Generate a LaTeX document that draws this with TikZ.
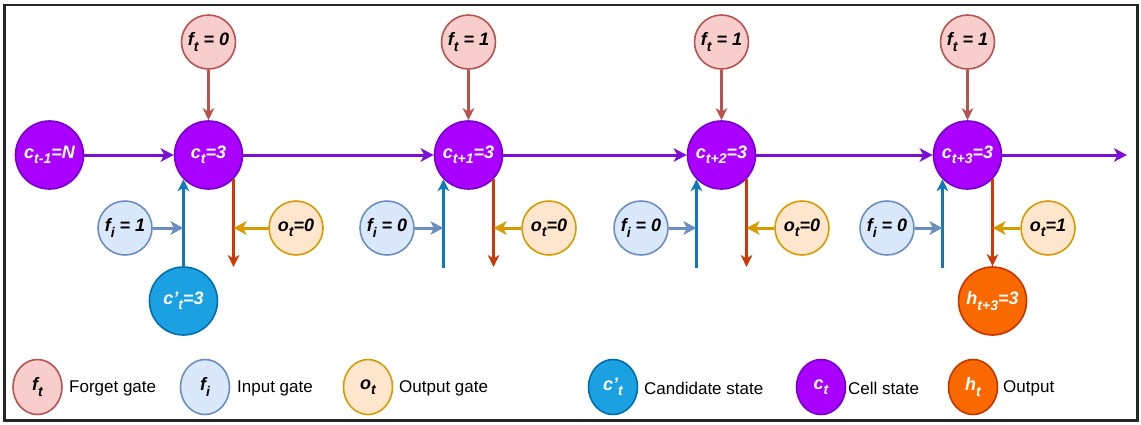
\documentclass[tikz,border=0pt]{standalone}
\usepackage{fontspec}
\setmainfont{Liberation Sans}
\usetikzlibrary{arrows.meta,shapes.geometric,calc}
\definecolor{ftFill}{HTML}{F8CECC}\definecolor{ftDraw}{HTML}{B85450}
\definecolor{fiFill}{HTML}{DAE8FC}\definecolor{fiDraw}{HTML}{6C8EBF}
\definecolor{otFill}{HTML}{FFE6CC}\definecolor{otDraw}{HTML}{D79B00}
\definecolor{cpFill}{HTML}{1BA1E2}\definecolor{cpDraw}{HTML}{006EAF}
\definecolor{ctFill}{HTML}{AA00FF}\definecolor{ctDraw}{HTML}{7700CC}
\definecolor{htFill}{HTML}{FA6800}\definecolor{htDraw}{HTML}{C73500}
\definecolor{blueLine}{HTML}{1079BC}
\definecolor{redLine}{HTML}{CC3A08}
\definecolor{purpLine}{HTML}{7A10D8}
\newcommand\lsb[1]{\raisebox{-0.3em}{\fontsize{14}{14}\selectfont #1}}
\tikzset{
  x=1pt, y=1pt,
  gate/.style={circle, inner sep=0pt, minimum size=54pt, line width=1.6pt,
    font=\fontsize{18}{20}\selectfont\bfseries\itshape},
  big/.style={gate, minimum size=68pt, text=white},
  ftn/.style={gate, fill=ftFill, draw=ftDraw},
  fin/.style={gate, fill=fiFill, draw=fiDraw},
  otn/.style={gate, fill=otFill, draw=otDraw},
  cpn/.style={big, fill=cpFill, draw=cpDraw},
  ctn/.style={big, fill=ctFill, draw=ctDraw},
  htn/.style={big, fill=htFill, draw=htDraw},
  arr/.style={line width=2.4pt, -{Stealth[length=12pt,width=11.5pt,inset=3.5pt]}},
  arrh/.style={line width=3pt, -{Stealth[length=13pt,width=13.5pt,inset=3.5pt]}},
  leg/.style={ellipse, inner sep=0pt, minimum width=49pt, minimum height=55pt, line width=1.6pt,
    font=\fontsize{18}{20}\selectfont\bfseries\itshape},
  legtxt/.style={anchor=west, inner sep=0pt, font=\fontsize{17}{20}\selectfont},
}
\begin{document}
\begin{tikzpicture}
\useasboundingbox (0,-424) rectangle (1141,0);
\draw[line width=2.2pt, black!85] (4.5,-5) rectangle (1137.5,-420.5);

% cell states
\node[ctn] (cm) at (49.5,-155) {c\lsb{t-1}=N};
\node[ctn] (c1) at (208.5,-155) {c\lsb{t}=3};
\node[ctn] (c2) at (468.5,-155) {c\lsb{t+1}=3};
\node[ctn] (c3) at (721.5,-155) {c\lsb{t+2}=3};
\node[ctn] (c4) at (967.5,-155) {c\lsb{t+3}=3};
\coordinate (out) at (1127,-155);

% forget gates
\node[ftn] (ft1) at (208.5,-42) {f\lsb{t} = 0};
\node[ftn] (ft2) at (468.5,-42) {f\lsb{t} = 1};
\node[ftn] (ft3) at (721.5,-42) {f\lsb{t} = 1};
\node[ftn] (ft4) at (967.5,-42) {f\lsb{t} = 1};

% candidate, output
\node[cpn] (cp1) at (c1.224 |- 0,-301) {c'\lsb{t}=3};
\node[htn] (h4) at (c4.316 |- 0,-301) {h\lsb{t+3}=3};

% blue line starts / red line ends
\coordinate (b2) at (c2.224 |- 0,-268);
\coordinate (b3) at (c3.224 |- 0,-268);
\coordinate (b4) at (c4.224 |- 0,-268);
\coordinate (r1) at (c1.316 |- 0,-267);
\coordinate (r2) at (c2.316 |- 0,-267);
\coordinate (r3) at (c3.316 |- 0,-267);

% input gates
\node[fin] (fi1) at (125,-228) {f\lsb{i} = 1};
\node[fin] (fi2) at (387,-228) {f\lsb{i} = 0};
\node[fin] (fi3) at (641,-228) {f\lsb{i} = 0};
\node[fin] (fi4) at (887,-228) {f\lsb{i} = 0};

% output gates
\node[otn] (ot1) at (296,-228) {o\lsb{t}=0};
\node[otn] (ot2) at (549,-228) {o\lsb{t}=0};
\node[otn] (ot3) at (802,-228) {o\lsb{t}=0};
\node[otn] (ot4) at (1048,-228) {o\lsb{t}=1};

% connectors
\foreach \i in {1,2,3,4} {\draw[arr, ftDraw] (ft\i) -- (c\i);}
\draw[arrh, purpLine] (cm) -- (c1);
\draw[arrh, purpLine] (c1) -- (c2);
\draw[arrh, purpLine] (c2) -- (c3);
\draw[arrh, purpLine] (c3) -- (c4);
\draw[arrh, purpLine] (c4) -- (out);

\draw[arr, blueLine] (cp1.north) -- (c1.224);
\draw[arr, blueLine] (b2) -- (c2.224);
\draw[arr, blueLine] (b3) -- (c3.224);
\draw[arr, blueLine] (b4) -- (c4.224);

\draw[arr, redLine] (c1.316) -- (r1);
\draw[arr, redLine] (c2.316) -- (r2);
\draw[arr, redLine] (c3.316) -- (r3);
\draw[arr, redLine] (c4.316) -- (h4.north);

\draw[arrh, fiDraw] (fi1.east) -- (fi1.east -| cp1.north);
\draw[arrh, fiDraw] (fi2.east) -- (fi2.east -| b2);
\draw[arrh, fiDraw] (fi3.east) -- (fi3.east -| b3);
\draw[arrh, fiDraw] (fi4.east) -- (fi4.east -| b4);

\draw[arrh, otDraw] (ot1.west) -- (ot1.west -| r1);
\draw[arrh, otDraw] (ot2.west) -- (ot2.west -| r2);
\draw[arrh, otDraw] (ot3.west) -- (ot3.west -| r3);
\draw[arrh, otDraw] (ot4.west) -- (ot4.west -| h4.north);

% legend
\node[leg, fill=ftFill, draw=ftDraw] (lft) at (37.5,-387) {f\lsb{t}};
\node[legtxt] (tft) at (69,-388) {Forget gate};
\node[leg, fill=fiFill, draw=fiDraw] (lfi) at (205,-387) {f\lsb{i}};
\node[legtxt] (tfi) at (237,-388) {Input gate};
\node[leg, fill=otFill, draw=otDraw] (lot) at (368,-387) {o\lsb{t}};
\node[legtxt] (tot) at (399,-388) {Output gate};
\node[leg, fill=cpFill, draw=cpDraw, text=white] (lcp) at (613,-387) {c'\lsb{t}};
\node[legtxt] (tcp) at (644,-388) {Candidate state};
\node[leg, fill=ctFill, draw=ctDraw, text=white] (lct) at (821,-387) {c\lsb{t}};
\node[legtxt] (tct) at (848,-388) {Cell state};
\node[leg, fill=htFill, draw=htDraw, text=white] (lht) at (973,-387) {h\lsb{t}};
\node[legtxt] (tht) at (1003,-388) {Output};
\end{tikzpicture}
\end{document}
